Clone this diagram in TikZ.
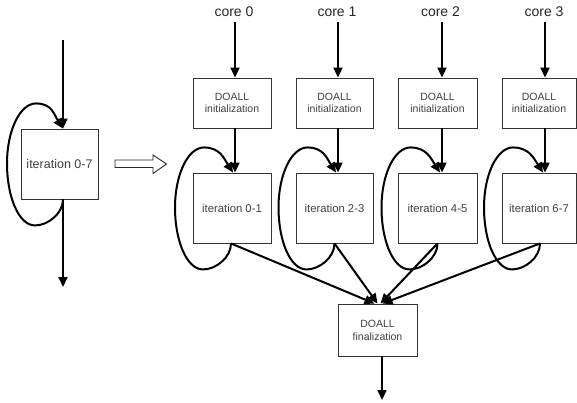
\documentclass[tikz,border=0pt]{standalone}
\usepackage{fontspec}
\setmainfont{Liberation Sans}
\usetikzlibrary{arrows.meta}
\newcommand\itloop[3]{%
  \draw[loopline] ([xshift=#2pt]#1.south)
    .. controls +(0,-14) and +(13,0) .. ++(-28,-26)
    .. controls +(-16,0) and +(0,-34) .. ++(-28,62)
    .. controls +(0,33) and +(-16,0) .. ++(29,60)
    .. controls +(16,0) and +(-9,14) .. ([xshift=#3pt]#1.north);}
\begin{document}
\begin{tikzpicture}[x=1pt,y=1pt,
  boxbase/.style={draw=black!80, line width=0.9pt, fill=white, inner sep=0pt,
    align=center, text=black!75},
  itbox/.style={boxbase, minimum height=70pt, font=\fontsize{11.3}{12}\selectfont},
  initbox/.style={boxbase, minimum height=50pt, font=\fontsize{10.5}{11.5}\selectfont},
  finbox/.style={boxbase, minimum width=79pt, minimum height=52pt, font=\fontsize{10.5}{13}\selectfont},
  corelbl/.style={inner sep=0pt, text=black!85, font=\fontsize{14}{15}\selectfont},
  flow/.style={line width=2pt, -{Triangle[width=9pt,length=10pt]}},
  loopline/.style={line width=2pt, -{Triangle[width=9pt,length=10pt]}},
  hollow/.style={draw=black!85, line width=0.9pt, fill=white},
]
\useasboundingbox (0,0) rectangle (577,-402);

% left: sequential loop
\node[itbox, minimum width=77pt, font=\fontsize{12.5}{13}\selectfont] (it07) at (59.5,-164) {iteration 0-7};
\coordinate (lin) at (63,-40);
\coordinate (lout) at (63,-287);
\draw[flow] (lin) -- ([xshift=3.5pt]it07.north);
\draw[flow] ([xshift=3.5pt]it07.south) -- (lout);
\itloop{it07}{3.5}{3.5}

% hollow arrow
\draw[hollow] (115,-160) -- (153,-160) -- (153,-155) -- (166.5,-164) -- (153,-173.5)
  -- (153,-167.5) -- (115,-167.5) -- cycle;

% columns
\node[corelbl] (c0) at (234,-12) {core 0};
\node[corelbl] (c1) at (337,-12) {core 1};
\node[corelbl] (c2) at (440.5,-12) {core 2};
\node[corelbl] (c3) at (544,-12) {core 3};

\node[initbox, minimum width=78pt] (in0) at (232,-103) {DOALL\\initialization};
\node[initbox, minimum width=77pt] (in1) at (334.5,-103) {DOALL\\initialization};
\node[initbox, minimum width=79pt] (in2) at (437.5,-103) {DOALL\\initialization};
\node[initbox, minimum width=74pt] (in3) at (539,-103) {DOALL\\initialization};

\node[itbox, minimum width=78pt] (it0) at (232,-208) {iteration 0-1};
\node[itbox, minimum width=77pt] (it1) at (334.5,-208) {iteration 2-3};
\node[itbox, minimum width=79pt] (it2) at (437.5,-208) {iteration 4-5};
\node[itbox, minimum width=74pt] (it3) at (539,-208) {iteration 6-7};

\node[finbox] (fin) at (377.5,-330) {DOALL\\finalization};
\coordinate (fout) at (382,-400);

\draw[flow] ([xshift=3pt]in0.north |- c0.south) ++(0,-5) -- ([xshift=3pt]in0.north);
\draw[flow] ([xshift=3.5pt]in1.north |- c1.south) ++(0,-5) -- ([xshift=3.5pt]in1.north);
\draw[flow] ([xshift=4.5pt]in2.north |- c2.south) ++(0,-5) -- ([xshift=4.5pt]in2.north);
\draw[flow] ([xshift=6pt]in3.north |- c3.south) ++(0,-5) -- ([xshift=6pt]in3.north);

\draw[flow] ([xshift=3pt]in0.south) -- ([xshift=3pt]it0.north);
\draw[flow] ([xshift=3.5pt]in1.south) -- ([xshift=3.5pt]it1.north);
\draw[flow] ([xshift=4.5pt]in2.south) -- ([xshift=4.5pt]it2.north);
\draw[flow] ([xshift=6pt]in3.south) -- ([xshift=6pt]it3.north);

\itloop{it0}{-1}{1}
\itloop{it1}{0}{1.5}
\itloop{it2}{0}{2.5}
\itloop{it3}{1}{4}

\draw[flow] ([xshift=-1pt]it0.south) -- ([xshift=-3pt]fin.north);
\draw[flow] (it1.south) -- ([xshift=0pt]fin.north);
\draw[flow] (it2.south) -- ([xshift=3pt]fin.north);
\draw[flow] ([xshift=1pt]it3.south) -- ([xshift=5pt]fin.north);

\draw[flow] ([xshift=4.5pt]fin.south) -- (fout);
\end{tikzpicture}
\end{document}
